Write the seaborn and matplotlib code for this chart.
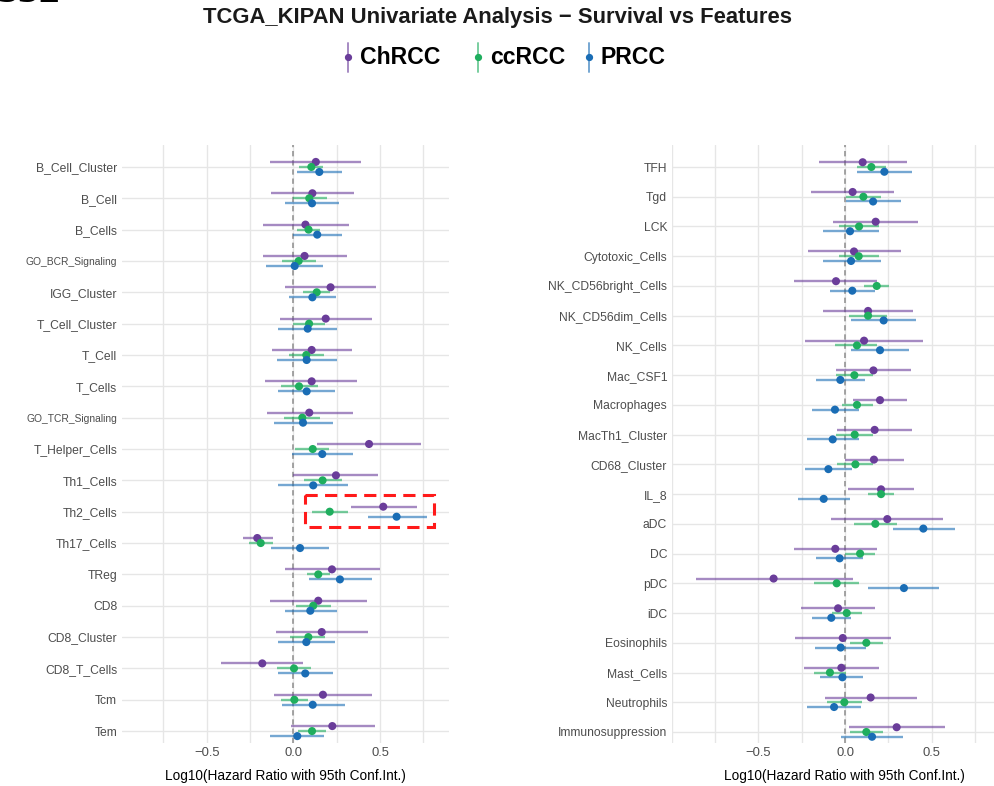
import numpy as np
import pandas as pd
import matplotlib
matplotlib.use("Agg")
import matplotlib.pyplot as plt
from matplotlib import font_manager
from matplotlib.lines import Line2D
from matplotlib.patches import Rectangle
import seaborn as sns

# ---------------- data: log10 hazard ratios with 95% CI ----------------
subtypes = ["ChRCC", "ccRCC", "PRCC"]

left_features = ["B_Cell_Cluster", "B_Cell", "B_Cells", "GO_BCR_Signaling", "IGG_Cluster",
                 "T_Cell_Cluster", "T_Cell", "T_Cells", "GO_TCR_Signaling", "T_Helper_Cells",
                 "Th1_Cells", "Th2_Cells", "Th17_Cells", "TReg", "CD8", "CD8_Cluster",
                 "CD8_T_Cells", "Tcm", "Tem"]

left_chrcc_est = [0.130, 0.110, 0.070, 0.065, 0.215, 0.187, 0.106, 0.106, 0.092, 0.437,
                  0.246, 0.519, -0.208, 0.223, 0.144, 0.164, -0.179, 0.171, 0.225]
left_chrcc_lo = [-0.134, -0.130, -0.177, -0.177, -0.046, -0.077, -0.123, -0.163, -0.154, 0.135,
                 0.000, 0.331, -0.292, -0.048, -0.134, -0.100, -0.417, -0.111, -0.015]
left_chrcc_hi = [0.389, 0.350, 0.321, 0.312, 0.475, 0.452, 0.337, 0.369, 0.342, 0.735,
                 0.491, 0.712, -0.115, 0.500, 0.427, 0.433, 0.058, 0.456, 0.471]

left_ccrcc_est = [0.104, 0.092, 0.088, 0.031, 0.135, 0.091, 0.075, 0.033, 0.052, 0.112,
                  0.169, 0.210, -0.188, 0.144, 0.115, 0.087, 0.004, 0.006, 0.108]
left_ccrcc_lo = [0.035, 0.000, 0.019, -0.067, 0.058, 0.000, -0.023, -0.071, -0.056, 0.012,
                 0.064, 0.106, -0.257, 0.077, 0.014, -0.019, -0.096, -0.073, 0.029]
left_ccrcc_hi = [0.173, 0.192, 0.154, 0.129, 0.212, 0.183, 0.177, 0.141, 0.154, 0.208,
                 0.279, 0.314, -0.115, 0.212, 0.218, 0.183, 0.100, 0.083, 0.187]

left_prcc_est = [0.150, 0.108, 0.138, 0.008, 0.110, 0.083, 0.077, 0.077, 0.056, 0.167,
                 0.115, 0.596, 0.039, 0.269, 0.098, 0.075, 0.069, 0.112, 0.023]
left_prcc_lo = [0.023, -0.050, 0.000, -0.156, -0.023, -0.087, -0.094, -0.088, -0.111, -0.010,
                -0.090, 0.433, -0.130, 0.092, -0.048, -0.090, -0.090, -0.067, -0.134]
left_prcc_hi = [0.279, 0.265, 0.279, 0.169, 0.246, 0.254, 0.250, 0.240, 0.227, 0.342,
                0.318, 0.770, 0.206, 0.452, 0.250, 0.242, 0.227, 0.298, 0.177]

right_features = ["TFH", "Tgd", "LCK", "Cytotoxic_Cells", "NK_CD56bright_Cells",
                  "NK_CD56dim_Cells", "NK_Cells", "Mac_CSF1", "Macrophages", "MacTh1_Cluster",
                  "CD68_Cluster", "IL_8", "aDC", "DC", "pDC", "iDC", "Eosinophils",
                  "Mast_Cells", "Neutrophils", "Immunosuppression"]

right_chrcc_est = [0.102, 0.044, 0.177, 0.052, -0.052, 0.133, 0.110, 0.164, 0.202, 0.171,
                   0.167, 0.208, 0.244, -0.056, -0.412, -0.040, -0.013, -0.021, 0.148, 0.298]
right_chrcc_lo = [-0.150, -0.196, -0.067, -0.215, -0.294, -0.129, -0.231, -0.052, 0.044, -0.044,
                  0.000, 0.019, -0.079, -0.294, -0.862, -0.256, -0.290, -0.237, -0.115, 0.021]
right_chrcc_hi = [0.356, 0.283, 0.419, 0.321, 0.187, 0.390, 0.452, 0.379, 0.360, 0.385,
                  0.340, 0.400, 0.567, 0.187, 0.044, 0.173, 0.263, 0.194, 0.417, 0.579]

right_ccrcc_est = [0.152, 0.106, 0.081, 0.079, 0.183, 0.133, 0.069, 0.054, 0.069, 0.056,
                   0.060, 0.208, 0.175, 0.087, -0.048, 0.010, 0.123, -0.087, -0.004, 0.123]
right_ccrcc_lo = [0.067, 0.004, -0.033, -0.033, 0.110, 0.025, -0.056, -0.052, -0.019, -0.052,
                  -0.044, 0.133, 0.052, 0.000, -0.179, -0.077, 0.029, -0.179, -0.106, 0.029]
right_ccrcc_hi = [0.237, 0.206, 0.196, 0.194, 0.256, 0.240, 0.187, 0.164, 0.164, 0.164,
                  0.164, 0.283, 0.298, 0.175, 0.083, 0.096, 0.221, 0.006, 0.098, 0.221]

right_prcc_est = [0.227, 0.162, 0.029, 0.035, 0.042, 0.223, 0.202, -0.027, -0.058, -0.071,
                  -0.096, -0.123, 0.452, -0.031, 0.340, -0.079, -0.025, -0.015, -0.063, 0.156]
right_prcc_lo = [0.071, 0.004, -0.129, -0.129, -0.087, 0.033, 0.033, -0.167, -0.192, -0.217,
                 -0.231, -0.269, 0.279, -0.167, 0.135, -0.190, -0.171, -0.142, -0.219, -0.021]
right_prcc_hi = [0.385, 0.321, 0.194, 0.206, 0.173, 0.410, 0.371, 0.117, 0.079, 0.079,
                 0.038, 0.029, 0.635, 0.106, 0.544, 0.033, 0.123, 0.106, 0.090, 0.333]

x_ticks = [-0.5, 0.0, 0.5]
x_tick_labels = ["\u22120.5", "0.0", "0.5"]
highlight_feature = "Th2_Cells"


def long_table(features, est, lo, hi):
    frames = []
    for st, e, l, h in zip(subtypes, est, lo, hi):
        frames.append(pd.DataFrame({"feature": features, "subtype": st,
                                    "est": e, "lo": l, "hi": h}))
    df = pd.concat(frames, ignore_index=True)
    df["idx"] = df["feature"].map({f: i for i, f in enumerate(features)})
    return df


left_df = long_table(left_features,
                     [left_chrcc_est, left_ccrcc_est, left_prcc_est],
                     [left_chrcc_lo, left_ccrcc_lo, left_prcc_lo],
                     [left_chrcc_hi, left_ccrcc_hi, left_prcc_hi])
right_df = long_table(right_features,
                      [right_chrcc_est, right_ccrcc_est, right_prcc_est],
                      [right_chrcc_lo, right_ccrcc_lo, right_prcc_lo],
                      [right_chrcc_hi, right_ccrcc_hi, right_prcc_hi])

# ---------------- style ----------------
sns.set_theme(style="white")
plt.rcParams["font.family"] = ["Liberation Sans", "DejaVu Sans"]

# condensed face for the long gene-set names, if one is installed
installed = {f.name for f in font_manager.fontManager.ttflist}
if "Liberation Sans Narrow" in installed:
    narrow_family, narrow_size = ["Liberation Sans Narrow", "Liberation Sans"], 8.6
else:
    narrow_family, narrow_size = ["Liberation Sans", "DejaVu Sans"], 7.4

palette = {"ChRCC": "#6A3D9A", "ccRCC": "#1FAE5E", "PRCC": "#1A6DB5"}
dodge = {"ChRCC": -0.16, "ccRCC": 0.0, "PRCC": 0.16}
grid_color = "#E6E6E6"
label_color = "#4D4D4D"

W, H = 995, 786
fig = plt.figure(figsize=(W / 100, H / 100), dpi=100)


def px_axes(x0, x1, y0, y1):
    return fig.add_axes([x0 / W, (H - y1) / H, (x1 - x0) / W, (y1 - y0) / H])


def forest(ax, df, features, xlim, ylim):
    df = df.copy()
    df["ypos"] = df["idx"] + df["subtype"].map(dodge)
    ax.set_xlim(*xlim)
    ax.set_ylim(*ylim)
    # grid
    for g in np.arange(-1.0, 1.01, 0.25):
        ax.axvline(g, color=grid_color, lw=1.0, zorder=0)
    for i in range(len(features)):
        ax.axhline(i, color=grid_color, lw=1.0, zorder=0)
    ax.axvline(0, color="#8C8C8C", lw=1.1, ls=(0, (3.5, 2.5)), zorder=1)
    # confidence intervals
    for st in subtypes:
        sub = df[df["subtype"] == st]
        ax.hlines(sub["ypos"], sub["lo"], sub["hi"], color=palette[st],
                  lw=1.7, alpha=0.6, zorder=2)
    sns.scatterplot(data=df, x="est", y="ypos", hue="subtype", palette=palette,
                    hue_order=subtypes, s=34, linewidth=0, legend=False, ax=ax, zorder=3)
    ax.set_yticks(range(len(features)))
    ax.set_yticklabels(features, fontsize=8.7, color=label_color)
    for lab in ax.get_yticklabels():
        if lab.get_text().startswith("GO_"):
            lab.set_family(narrow_family)
            lab.set_fontsize(narrow_size)
    ax.set_xticks(x_ticks)
    ax.set_xticklabels(x_tick_labels, fontsize=9.4, color=label_color)
    ax.tick_params(axis="both", length=0)
    ax.tick_params(axis="y", pad=3.5)
    ax.tick_params(axis="x", pad=3)
    ax.set_ylabel("")
    ax.set_xlabel("Log10(Hazard Ratio with 95th Conf.Int.)", fontsize=9.8,
                  color="black", labelpad=7)
    for sp in ax.spines.values():
        sp.set_visible(False)
    ax.grid(False)
    return df


ax_left = px_axes(122, 449, 145, 743)
forest(ax_left, left_df, left_features, (-0.9885, 0.8984), (18.38, -0.70))

ax_right = px_axes(672, 1016, 145, 743)
forest(ax_right, right_df, right_features, (-0.9983, 0.9867), (19.37, -0.74))

# highlight box around the Th2_Cells estimates
hl = left_df[left_df["feature"] == highlight_feature]
hi_idx = hl["idx"].iloc[0]
x0 = hl["lo"].min() - 0.04
x1 = hl["hi"].max() + 0.04
ax_left.add_patch(Rectangle((x0, hi_idx - 0.54), x1 - x0, 1.02, fill=False,
                            edgecolor="#FF1A1A", lw=2.2, ls=(0, (4, 2.4)), zorder=5))

# title
fig.text(498 / W, 1 - 18 / H, "TCGA_KIPAN Univariate Analysis \u2212 Survival vs Features",
         ha="center", va="center", fontsize=15.8, fontweight="bold", color="#1A1A1A")

# legend drawn as point-range keys
legend_items = [("ChRCC", 348), ("ccRCC", 478), ("PRCC", 589)]
ly = 57
for name, kx in legend_items:
    fig.add_artist(Line2D([kx / W, kx / W], [1 - 43 / H, 1 - 72 / H],
                          color=palette[name], lw=1.4, alpha=0.6, transform=fig.transFigure))
    fig.add_artist(Line2D([kx / W], [1 - ly / H], marker="o", markersize=4.2,
                          color=palette[name], lw=0, transform=fig.transFigure))
    fig.text((kx + 12) / W, 1 - ly / H, name, ha="left", va="center",
             fontsize=16.6, fontweight="bold", color="black")

# figure panel tag running off the top edge
fig.text(-4 / W, 1 - 2 / H, "S32", ha="left", va="baseline", fontsize=30,
         fontweight="bold", family=["Liberation Serif", "DejaVu Serif"], color="black")

fig.savefig("out.png", dpi=100)
